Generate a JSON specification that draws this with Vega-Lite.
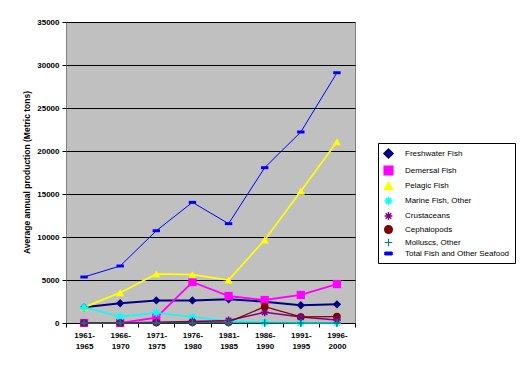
{
  "$schema": "https://vega.github.io/schema/vega-lite/v6.json",
  "width": 289,
  "height": 301,
  "autosize": {"type": "none"},
  "padding": {"left": 66, "top": 22, "right": 173, "bottom": 45},
  "background": "white",
  "config": {
    "view": {"fill": "#C0C0C0", "stroke": "#808080", "strokeWidth": 1},
    "axis": {
      "labelFont": "Liberation Sans", "labelFontWeight": "bold", "labelFontSize": 8, "labelColor": "black",
      "titleFont": "Liberation Sans", "titleFontWeight": "bold", "titleFontSize": 8.5, "titleColor": "black",
      "tickColor": "black", "domainColor": "black"
    }
  },
  "data": {"values": [
    {"period": "1961-1965", "series": "Freshwater Fish", "value": 1820},
    {"period": "1966-1970", "series": "Freshwater Fish", "value": 2290},
    {"period": "1971-1975", "series": "Freshwater Fish", "value": 2630},
    {"period": "1976-1980", "series": "Freshwater Fish", "value": 2630},
    {"period": "1981-1985", "series": "Freshwater Fish", "value": 2750},
    {"period": "1986-1990", "series": "Freshwater Fish", "value": 2480},
    {"period": "1991-1995", "series": "Freshwater Fish", "value": 2060},
    {"period": "1996-2000", "series": "Freshwater Fish", "value": 2170},
    {"period": "1961-1965", "series": "Demersal Fish", "value": 0},
    {"period": "1966-1970", "series": "Demersal Fish", "value": 0},
    {"period": "1971-1975", "series": "Demersal Fish", "value": 620},
    {"period": "1976-1980", "series": "Demersal Fish", "value": 4770},
    {"period": "1981-1985", "series": "Demersal Fish", "value": 3140},
    {"period": "1986-1990", "series": "Demersal Fish", "value": 2670},
    {"period": "1991-1995", "series": "Demersal Fish", "value": 3260},
    {"period": "1996-2000", "series": "Demersal Fish", "value": 4530},
    {"period": "1961-1965", "series": "Pelagic Fish", "value": 1820},
    {"period": "1966-1970", "series": "Pelagic Fish", "value": 3530},
    {"period": "1971-1975", "series": "Pelagic Fish", "value": 5700},
    {"period": "1976-1980", "series": "Pelagic Fish", "value": 5620},
    {"period": "1981-1985", "series": "Pelagic Fish", "value": 5000},
    {"period": "1986-1990", "series": "Pelagic Fish", "value": 9650},
    {"period": "1991-1995", "series": "Pelagic Fish", "value": 15310},
    {"period": "1996-2000", "series": "Pelagic Fish", "value": 21080},
    {"period": "1961-1965", "series": "Marine Fish, Other", "value": 1820},
    {"period": "1966-1970", "series": "Marine Fish, Other", "value": 740},
    {"period": "1971-1975", "series": "Marine Fish, Other", "value": 1200},
    {"period": "1976-1980", "series": "Marine Fish, Other", "value": 700},
    {"period": "1981-1985", "series": "Marine Fish, Other", "value": 230},
    {"period": "1986-1990", "series": "Marine Fish, Other", "value": 80},
    {"period": "1991-1995", "series": "Marine Fish, Other", "value": 0},
    {"period": "1996-2000", "series": "Marine Fish, Other", "value": 0},
    {"period": "1961-1965", "series": "Crustaceans", "value": 0},
    {"period": "1966-1970", "series": "Crustaceans", "value": 0},
    {"period": "1971-1975", "series": "Crustaceans", "value": 80},
    {"period": "1976-1980", "series": "Crustaceans", "value": 180},
    {"period": "1981-1985", "series": "Crustaceans", "value": 300},
    {"period": "1986-1990", "series": "Crustaceans", "value": 1240},
    {"period": "1991-1995", "series": "Crustaceans", "value": 700},
    {"period": "1996-2000", "series": "Crustaceans", "value": 350},
    {"period": "1961-1965", "series": "Cephalopods", "value": 0},
    {"period": "1966-1970", "series": "Cephalopods", "value": 0},
    {"period": "1971-1975", "series": "Cephalopods", "value": 50},
    {"period": "1976-1980", "series": "Cephalopods", "value": 100},
    {"period": "1981-1985", "series": "Cephalopods", "value": 100},
    {"period": "1986-1990", "series": "Cephalopods", "value": 1900},
    {"period": "1991-1995", "series": "Cephalopods", "value": 700},
    {"period": "1996-2000", "series": "Cephalopods", "value": 730},
    {"period": "1961-1965", "series": "Molluscs, Other", "value": 0},
    {"period": "1966-1970", "series": "Molluscs, Other", "value": 0},
    {"period": "1971-1975", "series": "Molluscs, Other", "value": 0},
    {"period": "1976-1980", "series": "Molluscs, Other", "value": 0},
    {"period": "1981-1985", "series": "Molluscs, Other", "value": 0},
    {"period": "1986-1990", "series": "Molluscs, Other", "value": 0},
    {"period": "1991-1995", "series": "Molluscs, Other", "value": 0},
    {"period": "1996-2000", "series": "Molluscs, Other", "value": 0},
    {"period": "1961-1965", "series": "Total Fish and Other Seafood", "value": 5350},
    {"period": "1966-1970", "series": "Total Fish and Other Seafood", "value": 6630},
    {"period": "1971-1975", "series": "Total Fish and Other Seafood", "value": 10730},
    {"period": "1976-1980", "series": "Total Fish and Other Seafood", "value": 14030},
    {"period": "1981-1985", "series": "Total Fish and Other Seafood", "value": 11550},
    {"period": "1986-1990", "series": "Total Fish and Other Seafood", "value": 18060},
    {"period": "1991-1995", "series": "Total Fish and Other Seafood", "value": 22210},
    {"period": "1996-2000", "series": "Total Fish and Other Seafood", "value": 29100}
  ]},
  "encoding": {
    "x": {
      "field": "period", "type": "nominal", "sort": null,
      "scale": {"paddingInner": 0, "paddingOuter": 0},
      "axis": {"title": null, "labelAngle": 0, "labelExpr": "[slice(datum.label,0,5), slice(datum.label,5)]",
               "labelLineHeight": 11, "labelPadding": 4, "tickSize": 4, "tickBand": "extent", "grid": false}
    },
    "y": {
      "field": "value", "type": "quantitative",
      "scale": {"domain": [0, 35000], "nice": false},
      "axis": {"title": "Average annual production (Metric tons)", "values": [0, 5000, 10000, 15000, 20000, 25000, 30000, 35000],
               "format": "d", "grid": true, "gridColor": "black", "gridWidth": 1, "domain": false, "tickSize": 4, "labelPadding": 3,
               "titleX": -40, "titleY": 150, "titleAlign": "center", "titleBaseline": "middle", "titleAngle": 270}
    },
    "color": {
      "field": "series", "type": "nominal",
      "scale": {
        "domain": ["Freshwater Fish", "Demersal Fish", "Pelagic Fish", "Marine Fish, Other", "Crustaceans", "Cephalopods", "Molluscs, Other", "Total Fish and Other Seafood"],
        "range": ["#000080", "#FF00FF", "#FFFF00", "#00FFFF", "#800080", "#800000", "#008080", "#0000FF"]
      },
      "legend": {
        "title": null, "orient": "none", "legendX": 312, "legendY": 121,
        "fillColor": "white", "strokeColor": "black", "padding": 5,
        "labelFont": "Liberation Sans", "labelFontSize": 8, "labelColor": "black",
        "symbolStrokeWidth": 1.5, "rowPadding": 0, "labelOffset": 11
      }
    }
  },
  "layer": [
    {
      "mark": {"type": "line"},
      "encoding": {
        "strokeWidth": {
          "field": "series", "type": "nominal", "legend": null,
          "scale": {
            "domain": ["Freshwater Fish", "Demersal Fish", "Pelagic Fish", "Marine Fish, Other", "Crustaceans", "Cephalopods", "Molluscs, Other", "Total Fish and Other Seafood"],
            "range": [2, 1, 1, 2, 2, 2, 2, 1]
          }
        }
      }
    },
    {
      "transform": [{"filter": {"field": "series", "oneOf": ["Freshwater Fish", "Demersal Fish", "Pelagic Fish", "Cephalopods", "Total Fish and Other Seafood"]}}],
      "mark": {"type": "point", "filled": true, "opacity": 1},
      "encoding": {
        "shape": {
          "field": "series", "type": "nominal", "legend": null,
          "scale": {
            "domain": ["Freshwater Fish", "Demersal Fish", "Pelagic Fish", "Marine Fish, Other", "Crustaceans", "Cephalopods", "Molluscs, Other", "Total Fish and Other Seafood"],
            "range": ["diamond", "square", "triangle-up", "M-1,0H1M0,-1V1M-0.7,-0.7L0.7,0.7M-0.7,0.7L0.7,-0.7", "M-1,0H1M0,-1V1M-0.7,-0.7L0.7,0.7M-0.7,0.7L0.7,-0.7", "circle", "M-1,0H1M0,-1V1", "M-1,-0.4H1V0.4H-1Z"]
          }
        },
        "size": {
          "field": "series", "type": "nominal", "legend": null,
          "scale": {
            "domain": ["Freshwater Fish", "Demersal Fish", "Pelagic Fish", "Marine Fish, Other", "Crustaceans", "Cephalopods", "Molluscs, Other", "Total Fish and Other Seafood"],
            "range": [70, 55, 64, 49, 49, 45, 36, 25]
          }
        }
      }
    },
    {
      "transform": [{"filter": {"field": "series", "oneOf": ["Marine Fish, Other", "Crustaceans", "Molluscs, Other"]}}],
      "mark": {"type": "point", "filled": false, "opacity": 1, "strokeWidth": 1.5},
      "encoding": {
        "shape": {"field": "series", "type": "nominal", "legend": null},
        "size": {"field": "series", "type": "nominal", "legend": null}
      }
    }
  ]
}
